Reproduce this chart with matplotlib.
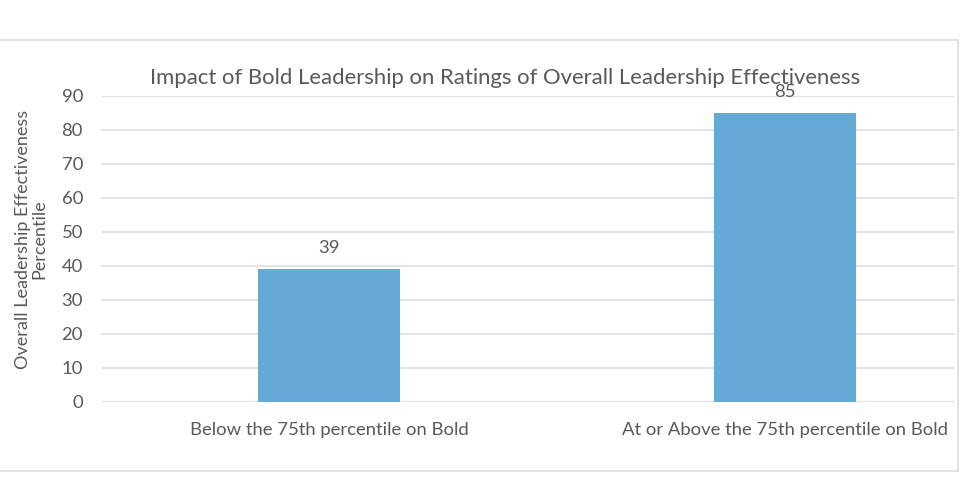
import matplotlib
matplotlib.use("Agg")
import matplotlib.pyplot as plt
from matplotlib.lines import Line2D

categories = ["Below the 75th percentile on Bold", "At or Above the 75th percentile on Bold"]
values = [39, 85]
yticks = [0, 10, 20, 30, 40, 50, 60, 70, 80, 90]

plt.rcParams['font.family'] = ['Lato', 'DejaVu Sans']
W, H = 960, 501
fig = plt.figure(figsize=(W/100, H/100), dpi=100)

x0, x1 = 101, 955
y0, y1 = 402, 96
ax = fig.add_axes([x0/W, 1 - y0/H, (x1-x0)/W, (y0-y1)/H])
ax.set_ylim(0, 90)
catw = 456
ax.set_xlim(-0.5, -0.5 + (x1-x0)/catw)

gray = '#595959'
fs = 13.3
pos = list(range(len(categories)))
bars = ax.bar(pos, values, width=142/catw, color='#65a9d7', zorder=3)
for p, v in zip(pos, values):
    ax.text(p, v + 3.8, str(v), ha='center', va='bottom', fontsize=fs, color=gray)

ax.set_yticks(yticks)
ax.set_yticklabels([str(t) for t in yticks], fontsize=fs, color=gray)
ax.set_xticks(pos)
ax.set_xticklabels(categories, fontsize=fs, color=gray)
ax.tick_params(axis='both', length=0)
ax.tick_params(axis='y', pad=13)
ax.tick_params(axis='x', pad=14.5)
for s in ax.spines.values():
    s.set_visible(False)
ax.grid(axis='y', color='#dedede', linewidth=1.2, zorder=0)
ax.set_axisbelow(True)

ax.set_ylabel("Overall Leadership Effectiveness\nPercentile", fontsize=13, color=gray, linespacing=1.0)
ax.yaxis.set_label_coords((47 - x0)/(x1 - x0), (y0 - 239)/(y0 - y1))

fig.text(505/W, 1 - 78/H, "Impact of Bold Leadership on Ratings of Overall Leadership Effectiveness",
         ha='center', va='center', fontsize=15.9, color=gray)

lc = '#dedede'
fig.add_artist(Line2D([0, 958/W], [1-40/H, 1-40/H], color=lc, lw=1.2, transform=fig.transFigure))
fig.add_artist(Line2D([0, 958/W], [1-471/H, 1-471/H], color=lc, lw=1.2, transform=fig.transFigure))
fig.add_artist(Line2D([958/W, 958/W], [1-40/H, 1-471/H], color=lc, lw=1.2, transform=fig.transFigure))

fig.savefig("out.png", dpi=100)
